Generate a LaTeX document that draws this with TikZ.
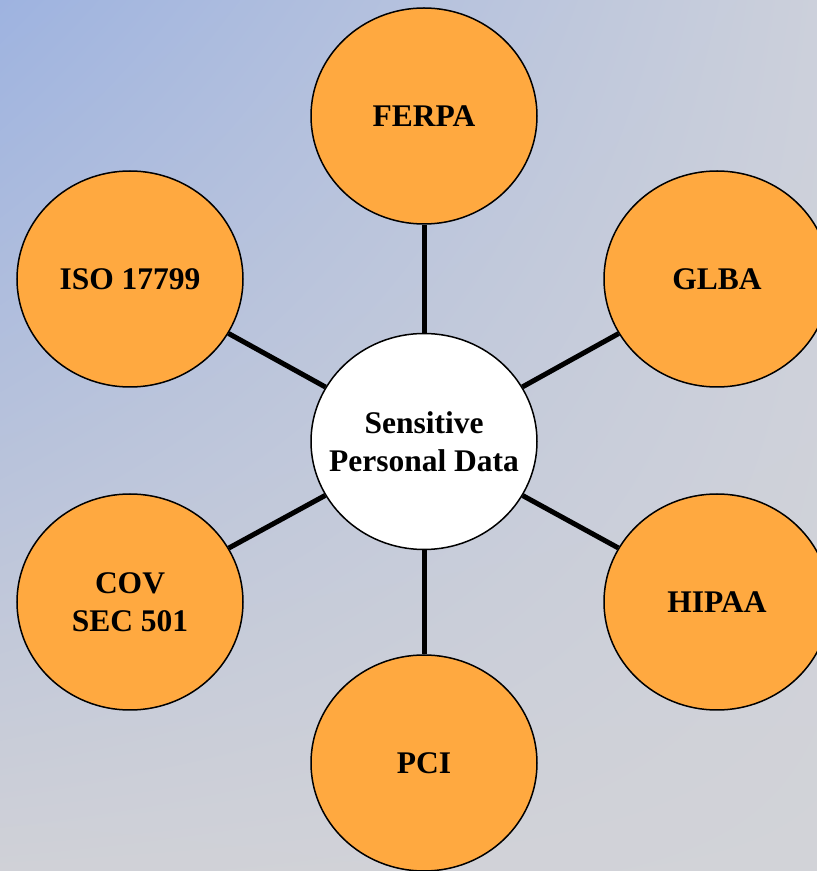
\documentclass[tikz,border=0pt]{standalone}
\usepackage{fontspec}
\setmainfont{Liberation Serif}
\usetikzlibrary{shapes.geometric,shadings}
\definecolor{bubble}{RGB}{255,169,64}
\definecolor{bgA}{RGB}{158,179,224}
\definecolor{bgB}{RGB}{204,208,219}
\definecolor{bgC}{RGB}{208,209,215}
\definecolor{bgD}{RGB}{210,211,216}
\begin{document}
\begin{tikzpicture}[x=1pt,y=1pt,
  bubblestyle/.style={ellipse, draw=black, line width=1.5pt, fill=bubble,
    minimum width=226pt, minimum height=216pt, inner xsep=-20pt, inner ysep=-20pt,
    align=center, font=\bfseries\fontsize{31.5}{38.5}\selectfont},
  hubstyle/.style={bubblestyle, fill=white},
  link/.style={line width=5pt, draw=black}]
\useasboundingbox (0,0) rectangle (817,871);
\clip (0,0) rectangle (817,871);
\shade[upper left=bgA, upper right=bgB, lower left=bgC, lower right=bgD] (0,0) rectangle (817,871);
\node[hubstyle] (hub) at (424,429.5) {Sensitive\\Personal Data};
\node[bubblestyle] (ferpa) at (424,755) {FERPA};
\node[bubblestyle] (glba) at (717,592) {GLBA};
\node[bubblestyle] (iso) at (130,592) {ISO 17799};
\node[bubblestyle] (hipaa) at (717,269) {HIPAA};
\node[bubblestyle] (cov) at (130,269) {COV\\SEC 501};
\node[bubblestyle] (pci) at (424,108) {PCI};
\foreach \n in {ferpa,glba,iso,hipaa,cov,pci}
  \draw[link] (hub) -- (\n);
\end{tikzpicture}
\end{document}
